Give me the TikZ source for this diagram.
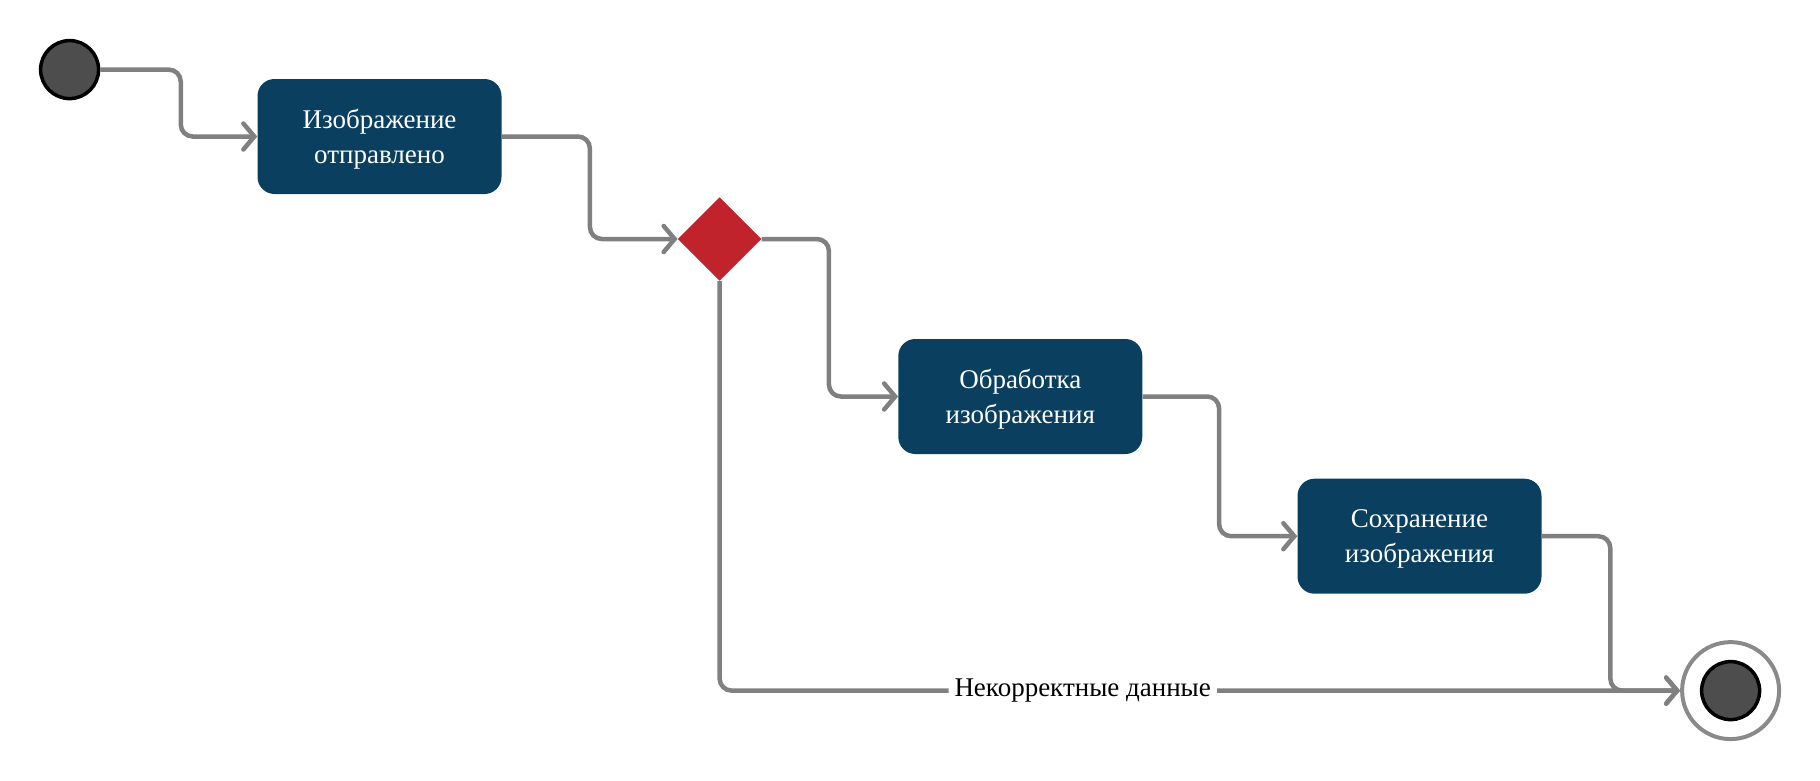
\documentclass[tikz,border=0pt]{standalone}
\usepackage{fontspec}
\setmainfont{Liberation Serif}
\newfontfamily\diagserif{Liberation Serif}
\usetikzlibrary{arrows.meta,shapes.geometric}
\definecolor{boxblue}{HTML}{0A3F5F}
\definecolor{decred}{HTML}{C0232C}
\definecolor{linegray}{HTML}{808080}
\definecolor{ringgray}{HTML}{8A8A8A}
\definecolor{dotfill}{HTML}{4D4D4D}
\begin{document}
\begin{tikzpicture}[x=1pt,y=-1pt,
  act/.style={rectangle, rounded corners=17pt, fill=boxblue, minimum width=244pt, minimum height=115pt, text=white, align=center, font=\diagserif\fontsize{27}{35}\selectfont, inner sep=0pt, text depth=0pt},
  dot/.style={circle, fill=dotfill, draw=black, line width=3.5pt, minimum size=58pt, inner sep=0pt},
  flow/.style={draw=linegray, line width=4.5pt, rounded corners=12pt, -{Straight Barb[length=11pt,width=26pt,line cap=round]}},
  lbl/.style={fill=white, text=black, font=\diagserif\fontsize{27}{28}\selectfont, inner sep=6pt}]
\useasboundingbox (0,0) rectangle (1820,780);
\node[dot] (start) at (69.6,69.6) {};
\node[act] (a1) at (379.5,136.5) {Изображение\\отправлено};
\node[diamond, aspect=1, fill=decred, minimum size=83.6pt, inner sep=0pt] (dec) at (719.6,239) {};
\node[act] (a2) at (1020.3,396.5) {Обработка\\изображения};
\node[act] (a3) at (1419.5,536.2) {Сохранение\\изображения};
\node[circle, draw=ringgray, line width=4pt, fill=white, minimum size=97pt, inner sep=0pt] (end) at (1730.6,690.6) {};
\node[dot] (endin) at (end.center) {};
\draw[flow] (start.east) -- ++(80.4,0) |- (a1.west);
\draw[flow] (a1.east) -- ++(88.2,0) |- (dec.west);
\draw[flow] (dec.east) -- ++(67.3,0) |- (a2.west);
\draw[flow] (a2.east) -- ++(76.6,0) |- (a3.west);
\draw[flow] (a3.east) -- ++(68.6,0) |- (end.west);
\draw[flow] (dec.south) |- node[lbl, pos=0.689] (lab) {Некорректные данные} (end.west);
\end{tikzpicture}
\end{document}
